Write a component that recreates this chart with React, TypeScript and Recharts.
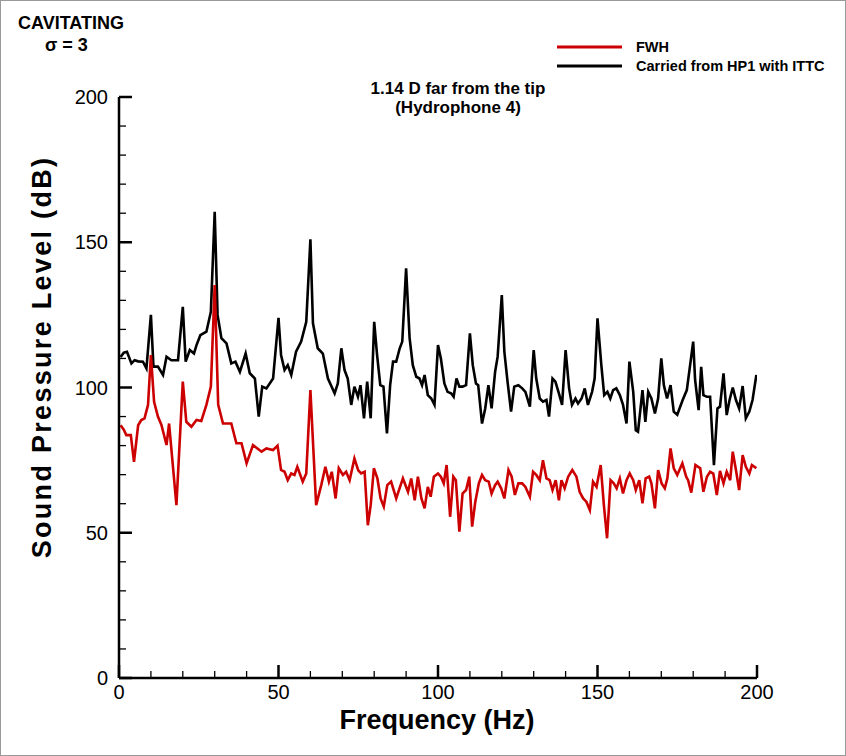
import { LineChart, Line, XAxis, YAxis } from 'recharts';

const FONT = '"Liberation Sans", Arial, Helvetica, sans-serif';

// frequency (Hz) / SPL (dB)
const hp1Freq = [
  0.5, 1.5, 2.5, 3.9, 4.9, 6, 7.5, 8.6, 10, 10.8,
  12.2, 13.8, 14.9, 16.4, 18.5, 20, 20.9, 22.2, 23.5, 24.3,
  25.5, 27.4, 28.8, 30, 30.9, 32.1, 33.7, 35.2, 36.5, 37.9,
  39.7, 41, 42.6, 43.8, 44.9, 46.2, 48.3, 50, 50.8, 51.9,
  52.9, 54, 55.5, 57.1, 58.7, 60, 60.8, 62.3, 63.9, 65.5,
  67.6, 68.6, 69.7, 70.7, 71.7, 72.8, 73.8, 74.9, 75.7, 76.8,
  77.8, 78.9, 80, 80.9, 81.9, 82.9, 84, 85, 85.9, 86.9,
  88, 88.8, 90, 91.1, 92.1, 93.2, 94.2, 95, 95.8, 96.8,
  97.9, 98.9, 100, 100.9, 102, 103, 104.1, 104.9, 105.8, 106.7,
  107.7, 108.8, 110, 110.9, 111.9, 112.6, 113.8, 114.8, 115.8, 116.8,
  117.9, 118.7, 120, 120.8, 121.8, 122.9, 123.9, 125.2, 126.4, 127.4,
  128.8, 130, 130.8, 131.9, 132.9, 134, 134.8, 135.9, 136.8, 137.9,
  138.9, 140, 141.1, 142, 143.1, 143.9, 145, 146, 147, 148.3,
  149.1, 150, 151.2, 152.1, 153.1, 154, 154.9, 155.9, 157, 158,
  159.1, 160, 161.2, 162, 162.7, 164.1, 165, 165.9, 166.9, 168,
  169, 170, 170.8, 171.8, 172.9, 173.9, 175, 176.7, 178, 180,
  180.6, 181.7, 182.5, 183.2, 184.3, 185.3, 186.5, 187.6, 188.4, 189.5,
  190.5, 191.4, 192.4, 193.4, 194.4, 195.5, 196.5, 197.6, 198.6, 199.8,
];
const hp1Spl = [
  110.5, 112, 112.3, 108.3, 109.4, 109, 108.9, 106.6, 125, 107.2,
  107.2, 104.3, 110.6, 109.4, 109.4, 127.8, 108.9, 112.9, 111.7, 114.6,
  118, 119.2, 126.1, 160.5, 125, 117, 115.2, 108.3, 108.9, 105.4,
  111.7, 104.9, 103.1, 90, 100.3, 99.7, 103.1, 124, 111.2, 106,
  107.7, 104.3, 112.3, 115.8, 122.6, 151, 122.1, 113.5, 111.7, 103.1,
  98, 101.4, 113.5, 106, 103.1, 94, 100.3, 96.8, 100.8, 89.4,
  102, 89.4, 122.6, 111.2, 100.8, 100.3, 84.2, 100.8, 108.9, 108.9,
  113.5, 115.8, 141, 117, 107.7, 103.7, 103.1, 100.8, 104.3, 97.4,
  96.2, 94, 114.6, 110, 101.4, 98.5, 98, 96.8, 103.1, 100.3,
  100.3, 100.8, 118.6, 107.7, 101.4, 100.8, 87.6, 92.8, 100.8, 92.8,
  105.4, 110.6, 131.8, 112.3, 102, 91.7, 100.3, 100.8, 99.7, 98.5,
  93.4, 112.9, 103.1, 96.2, 95.1, 95.7, 90, 103.1, 102, 98,
  94, 112.9, 99.7, 94, 96.2, 94.5, 96.2, 99.7, 94, 98.5,
  103.1, 123.8, 107.7, 97.4, 98.5, 96.2, 99.1, 99.7, 97.4, 94,
  87.6, 108.9, 98.5, 85.3, 84.8, 99.1, 88.2, 98.5, 96.2, 91.1,
  96.2, 110, 100.8, 96.2, 100.8, 91.7, 90.6, 95.7, 99.1, 115.8,
  102.6, 92.2, 107.1, 97.4, 96.8, 96.8, 73.3, 92.8, 93.4, 104.9,
  90.5, 95.7, 100, 95.7, 92.8, 100.5, 89.4, 91.7, 95.7, 104.3,
];

const fwhFreq = [
  0.5, 1.5, 2.3, 3.7, 4.7, 6, 7, 8, 9.1, 10,
  11, 12.2, 13.3, 14.9, 15.7, 18, 20, 21.1, 22.7, 24.3,
  25.8, 27.4, 28.8, 30, 31.1, 32.6, 35.2, 36.8, 38.4, 40,
  42, 44.7, 46.2, 48.3, 49.7, 50.8, 51.9, 52.9, 54, 55,
  55.9, 57.6, 58.7, 60, 61.8, 63.4, 64.7, 65.8, 66.7, 67.9,
  68.9, 70.2, 71.2, 72.3, 73.8, 75, 75.9, 77, 78, 78.9,
  79.9, 81, 82, 83, 84.1, 85.3, 86.9, 89, 90.6, 91.6,
  92.7, 93.7, 94.8, 95.8, 96.8, 97.7, 98.7, 100, 100.9, 101.8,
  102.7, 103.8, 104.8, 105.6, 106.7, 107.7, 108.8, 109.8, 110.7, 111.7,
  112.8, 113.8, 114.8, 115.9, 116.8, 117.9, 118.7, 119.8, 120.8, 122.1,
  123.1, 124.1, 125.2, 126.4, 127.4, 128.8, 129.8, 130.8, 131.9, 132.9,
  134, 135, 135.9, 136.9, 137.9, 138.7, 139.7, 140.8, 142.1, 143.4,
  144.4, 145.5, 146.5, 147.6, 148.6, 149.7, 151, 152, 153, 154.1,
  155.1, 156, 157, 158, 159.1, 160.1, 161.2, 162, 163.1, 164.1,
  165.1, 166.2, 166.9, 168, 169, 170.1, 171.1, 171.9, 172.9, 173.9,
  175, 176.6, 177.8, 178.4, 179.4, 180.7, 182.2, 183.2, 184.3, 185.3,
  186.3, 187.4, 188.4, 189.5, 190.5, 191.6, 192.4, 193.4, 194.4, 195.5,
  196.5, 197.6, 198.4, 199.8,
];
const fwhSpl = [
  87, 85.5, 83.6, 83.6, 74.4, 87, 88.8, 89.4, 94, 111.2,
  95.1, 90, 87.1, 80.2, 87.6, 59.5, 102, 88.2, 86.5, 88.8,
  88.5, 94, 100.3, 135.3, 94, 87.6, 87.6, 80.8, 80.8, 73.9,
  80.2, 77.9, 79, 78.5, 80, 71.6, 71, 68.1, 70.4, 69.9,
  72.7, 67.6, 70.4, 99.1, 59.5, 66.4, 72.7, 67.6, 71, 61.8,
  72.2, 69.9, 71, 68.1, 75.6, 71.5, 70.4, 71, 52.6, 59.5,
  72.2, 68.7, 61.8, 59, 66.4, 67.6, 61.8, 68.7, 64.1, 68.7,
  61.2, 69.3, 61.8, 58.4, 65.8, 62.4, 69.3, 70.4, 69.3, 67,
  73.3, 55.5, 69.3, 68.1, 50.4, 63.5, 64.7, 69.3, 52.1, 60.7,
  67, 69.9, 68.1, 67.6, 63.5, 66.4, 67.6, 65.3, 61.8, 71.6,
  69.3, 63, 67, 67, 65.8, 62.4, 71, 69.9, 68.1, 75,
  68.7, 68.1, 64.7, 68.1, 61.2, 68.1, 65.3, 69.3, 71.6, 69.3,
  64.1, 61.8, 60.7, 57.8, 67.6, 65.8, 73.3, 59.5, 48.1, 68.1,
  67, 65.3, 68.7, 63.5, 68.1, 70.4, 68.1, 64.7, 68.1, 60.1,
  68.7, 69.3, 67, 58.4, 71.6, 67, 65.3, 68.7, 79, 72.2,
  69.9, 73.9, 69.3, 68.1, 63.8, 73.3, 72.2, 64.1, 69.3, 71,
  70.4, 63, 71.3, 67, 71, 68.1, 77.9, 71.6, 64.7, 76.7,
  72.7, 70.4, 73.3, 72.2,
];

const freqTicks = [0, 10, 20, 30, 40, 50, 60, 70, 80, 90, 100, 110, 120, 130, 140, 150, 160, 170, 180, 190, 200];
const splTicks = [0, 10, 20, 30, 40, 50, 60, 70, 80, 90, 100, 110, 120, 130, 140, 150, 160, 170, 180, 190, 200];

const hp1Data = hp1Freq.map((f, i) => ({ freq: f, spl: hp1Spl[i] }));
const fwhData = fwhFreq.map((f, i) => ({ freq: f, spl: fwhSpl[i] }));

// ticks point into the plot, labels sit outside
function SplTick({ x, y, payload }: any) {
  const major = payload.value % 50 === 0;
  return (
    <g>
      <line x1={x} x2={x + (major ? 13 : 7)} y1={y} y2={y} stroke="#000" strokeWidth={major ? 2.5 : 1.3} />
      {major && (
        <text x={x - 11} y={y + 7} textAnchor="end" fontSize={20} fontFamily={FONT} fill="#000">
          {payload.value}
        </text>
      )}
    </g>
  );
}

function FreqTick({ x, y, payload }: any) {
  const major = payload.value % 50 === 0;
  return (
    <g>
      <line x1={x} x2={x} y1={y} y2={y - (major ? 13 : 7)} stroke="#000" strokeWidth={major ? 2.5 : 1.3} />
      {major && (
        <text x={x} y={y + 21} textAnchor="middle" fontSize={20} fontFamily={FONT} fill="#000">
          {payload.value}
        </text>
      )}
    </g>
  );
}

export default function App() {
  return (
    <div style={{ position: 'absolute', left: 0, top: 0, width: 846, height: 756, background: '#fff' }}>
      <LineChart width={846} height={756} margin={{ top: 97, right: 89, bottom: 38, left: 59 }}>
        <XAxis
          dataKey="freq"
          type="number"
          domain={[0, 200]}
          ticks={freqTicks}
          interval={0}
          height={40}
          tickSize={0}
          tickMargin={0}
          tick={<FreqTick />}
          tickLine={false}
          axisLine={{ stroke: '#000', strokeWidth: 2.5 }}
          allowDataOverflow
        />
        <YAxis
          type="number"
          domain={[0, 200]}
          ticks={splTicks}
          interval={0}
          width={60}
          tickSize={0}
          tickMargin={0}
          tick={<SplTick />}
          tickLine={false}
          axisLine={{ stroke: '#000', strokeWidth: 2.5 }}
          allowDataOverflow
        />
        <Line data={hp1Data} dataKey="spl" name="Carried from HP1 with ITTC" type="linear" stroke="#000" strokeWidth={2.6} dot={false} isAnimationActive={false} />
        <Line data={fwhData} dataKey="spl" name="FWH" type="linear" stroke="#cc0000" strokeWidth={2.6} dot={false} isAnimationActive={false} />
      </LineChart>
      <svg width={846} height={756} style={{ position: 'absolute', left: 0, top: 0, pointerEvents: 'none' }} fontFamily={FONT} fontWeight="bold">
        <rect x={0.5} y={0.5} width={845} height={755} fill="none" stroke="#999" strokeWidth={1} />
        <text x={18} y={29} fontSize={18}>CAVITATING</text>
        <text x={45} y={51} fontSize={18}>σ = 3</text>
        <line x1={557} x2={622} y1={47} y2={47} stroke="#cc0000" strokeWidth={3} />
        <text x={636} y={52} fontSize={14.5}>FWH</text>
        <line x1={557} x2={622} y1={66} y2={66} stroke="#000" strokeWidth={3} />
        <text x={636} y={71} fontSize={14.5}>Carried from HP1 with ITTC</text>
        <text x={458} y={94} fontSize={17} textAnchor="middle">1.14 D far from the tip</text>
        <text x={458} y={113} fontSize={17} textAnchor="middle">(Hydrophone 4)</text>
        <text x={437} y={729} fontSize={27} textAnchor="middle">Frequency (Hz)</text>
        <text x={51} y={357} fontSize={27} textAnchor="middle" letterSpacing={2.3} transform="rotate(-90 51 357)">
          Sound Pressure Level (dB)
        </text>
      </svg>
    </div>
  );
}
